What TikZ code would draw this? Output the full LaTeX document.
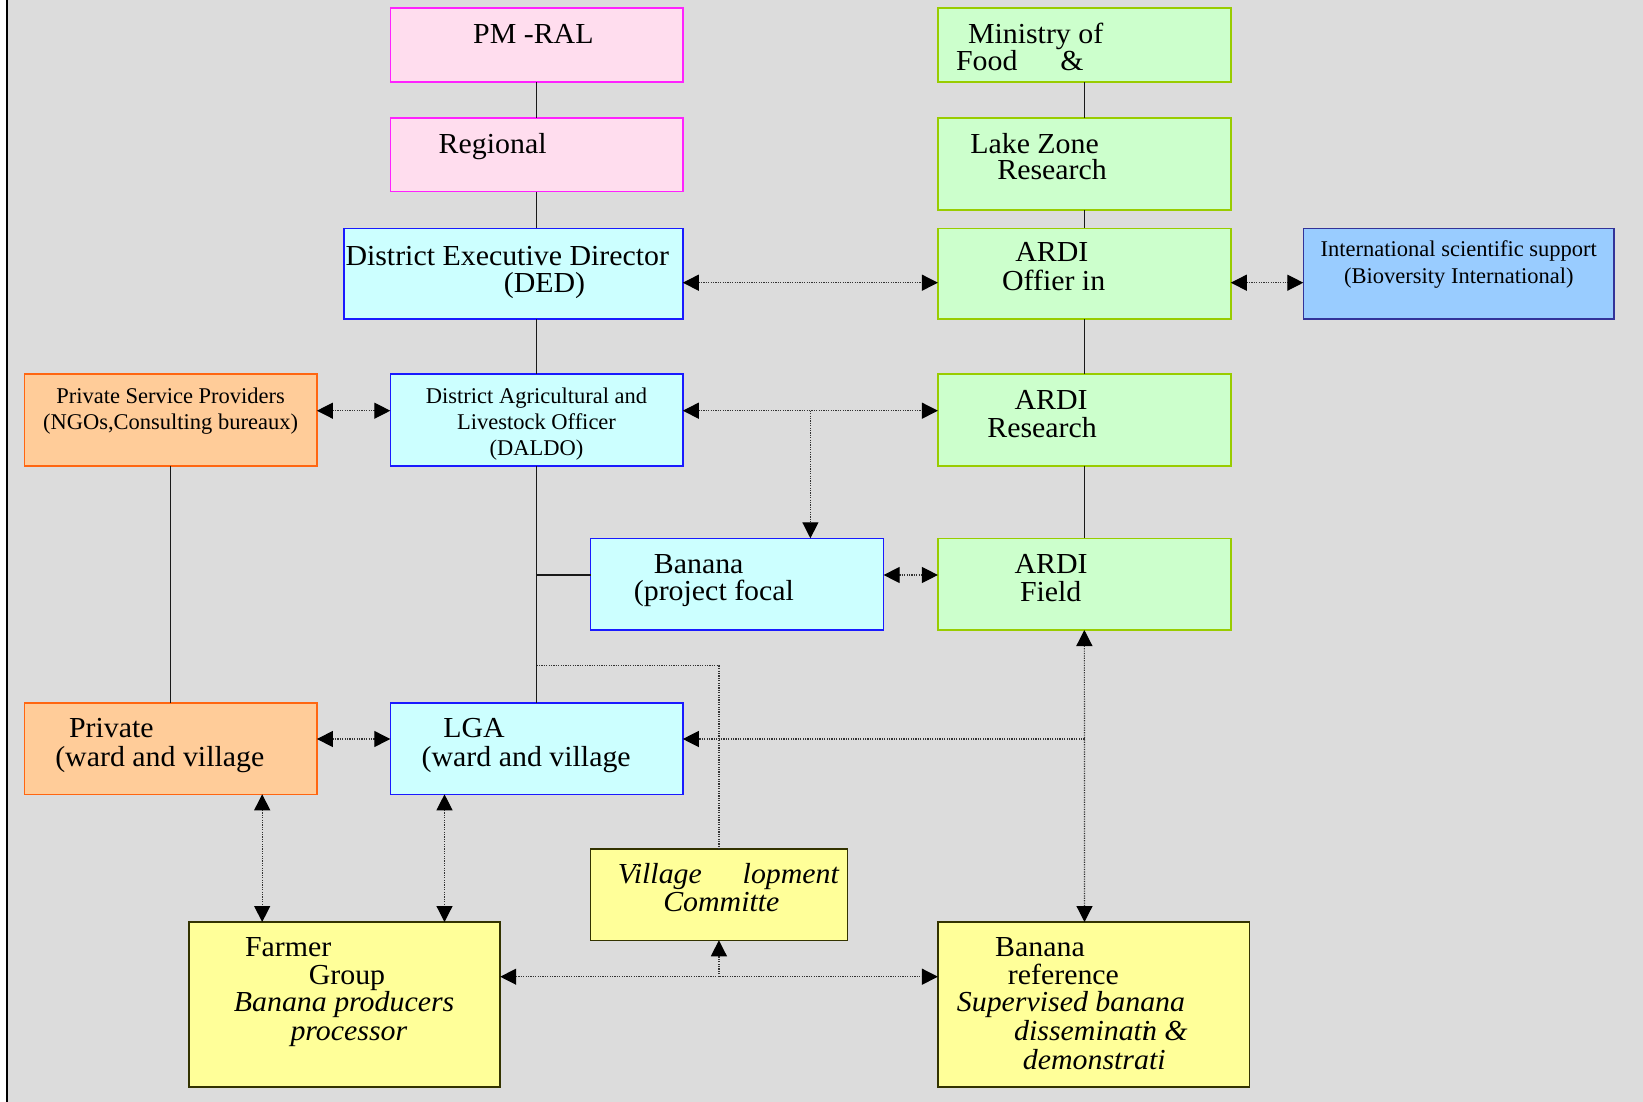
\documentclass[tikz,border=0pt]{standalone}
\usepackage{fontspec}
\setmainfont{Liberation Serif}
\newfontfamily\bigfam[FakeStretch=1.03]{Liberation Serif}
\usetikzlibrary{fit,arrows.meta}
\definecolor{bgc}{HTML}{DCDCDC}
\definecolor{pinkf}{HTML}{FFDDEE}
\definecolor{pinkd}{HTML}{FF22FF}
\definecolor{cyanf}{HTML}{CCFFFF}
\definecolor{cyand}{HTML}{1A1AFF}
\definecolor{greenf}{HTML}{CCFFCC}
\definecolor{greend}{HTML}{99CC00}
\definecolor{orangef}{HTML}{FFCC99}
\definecolor{oranged}{HTML}{FF6611}
\definecolor{bluef}{HTML}{99CCFF}
\definecolor{blued}{HTML}{333399}
\definecolor{yellowf}{HTML}{FFFF99}
\definecolor{yellowd}{HTML}{333300}
\definecolor{dotc}{HTML}{333333}
\newcommand{\bigtxt}{\bigfam\fontsize{29}{27.5}\selectfont}
\newcommand{\smalltxt}{\fontsize{22.5}{26}\selectfont}
\tikzset{
  box/.style={draw, line width=1.6pt, inner sep=0pt, outer sep=0pt},
  pinkbox/.style={box, fill=pinkf, draw=pinkd},
  cyanbox/.style={box, fill=cyanf, draw=cyand},
  greenbox/.style={box, fill=greenf, draw=greend},
  orangebox/.style={box, fill=orangef, draw=oranged},
  bluebox/.style={box, fill=bluef, draw=blued},
  yellowbox/.style={box, fill=yellowf, draw=yellowd},
  bt/.style={anchor=base west, inner sep=0pt, font=\bigtxt},
  it/.style={anchor=base west, inner sep=0pt, font=\bigtxt\itshape},
  st/.style={anchor=base, inner sep=0pt, font=\smalltxt},
  solidline/.style={line width=1.5pt, black!90},
  dotline/.style={line width=1.2pt, dotc, dash pattern=on 1.2pt off 1.2pt},
  tip/.tip={Triangle[length=16pt,width=16pt,color=black]},
  darr/.style={dotline, tip-tip},
  sarr/.style={dotline, -tip},
}
\begin{document}
\begin{tikzpicture}[x=1pt,y=-1pt]
\useasboundingbox (0,0) rectangle (1643,1102);
\fill[white] (0,0) rectangle (1643,1102);
\fill[bgc] (7,0) rectangle (1643,1102);
\draw[line width=2pt] (6.5,0) -- (6.5,1102);

% boxes
\node[pinkbox, fit={(390.3,8.3) (682.8,82.3)}] (pm) {};
\node[pinkbox, fit={(390.3,118.3) (682.8,191.7)}] (reg) {};
\node[cyanbox, fit={(343.9,228.3) (682.8,319)}] (ded) {};
\node[greenbox, fit={(937.9,8.3) (1230.8,82.3)}] (min) {};
\node[greenbox, fit={(937.9,118.3) (1230.8,210)}] (lake) {};
\node[greenbox, fit={(937.9,228.3) (1230.8,319)}] (ardio) {};
\node[bluebox, fit={(1303.3,228.3) (1614.2,319)}] (intl) {};
\node[orangebox, fit={(24.3,374) (316.9,465.7)}] (psp) {};
\node[cyanbox, fit={(390.3,374) (682.8,465.7)}] (daldo) {};
\node[greenbox, fit={(937.9,374) (1230.8,465.7)}] (ardir) {};
\node[cyanbox, fit={(590.5,538.3) (883.6,630)}] (banf) {};
\node[greenbox, fit={(937.9,538.3) (1230.8,630)}] (ardif) {};
\node[orangebox, fit={(24.3,702.7) (316.9,794.3)}] (priv) {};
\node[cyanbox, fit={(390.3,702.7) (682.8,794.3)}] (lga) {};
\node[yellowbox, fit={(590.3,849) (847.5,940.3)}] (vil) {};
\node[yellowbox, fit={(189,922) (500.2,1086.7)}] (farm) {};
\node[yellowbox, fit={(937.9,922) (1249.3,1086.7)}] (bref) {};

% texts
\node[bt] (tpm) at (473,43.3) {PM -RAL};
\node[bt] (treg) at (438.5,154) {Regional};
\node[bt] (tded1) at (345.3,265) {District Executive Director};
\node[bt] (tded2) at (503.7,292) {(DED)};
\node[bt] (tmin1) at (967.8,43.3) {Ministry of};
\node[bt] (tmin2) at (955.9,71) {Food};
\node[bt] (tmin3) at (1060.2,71) {\&};
\node[bt] (tlake1) at (970.1,154) {Lake Zone};
\node[bt] (tlake2) at (997.2,180) {Research};
\node[bt] (tardio1) at (1015.2,261.7) {ARDI};
\node[bt] (tardio2) at (1001.9,290) {Offier in};
\node[st] (tintl1) at (1458.8,256.7) {International scientific support};
\node[st] (tintl2) at (1458.8,283.3) {(Bioversity International)};
\node[st] (tpsp1) at (170.6,403.3) {Private Service Providers};
\node[st] (tpsp2) at (170.6,429) {(NGOs,Consulting bureaux)};
\node[st] (tdal1) at (536.5,403.3) {District Agricultural and};
\node[st] (tdal2) at (536.5,429) {Livestock Officer};
\node[st] (tdal3) at (536.5,455) {(DALDO)};
\node[bt] (tardir1) at (1014.4,409) {ARDI};
\node[bt] (tardir2) at (987.2,437.3) {Research};
\node[bt] (tbanf1) at (653.7,573.3) {Banana};
\node[bt] (tbanf2) at (633.7,600.7) {(project focal};
\node[bt] (tardif1) at (1014.4,573.3) {ARDI};
\node[bt] (tardif2) at (1019.8,601.7) {Field};
\node[bt] (tpriv1) at (68.9,737.7) {Private};
\node[bt] (tpriv2) at (55.1,766) {(ward and village};
\node[bt] (tlga1) at (443.1,737.7) {LGA};
\node[bt] (tlga2) at (421.5,766) {(ward and village};
\node[it] (tvil1) at (617.6,883.3) {Village};
\node[it] (tvil2) at (742.5,883.3) {lopment};
\node[it] (tvil3) at (663.1,911.7) {Committe};
\node[bt] (tfarm1) at (244.8,956) {Farmer};
\node[bt] (tfarm2) at (308.6,984) {Group};
\node[it] (tfarm3) at (233.7,1011.7) {Banana producers};
\node[it] (tfarm4) at (290.3,1040) {processor};
\node[bt] (tbref1) at (995,956.7) {Banana};
\node[bt] (tbref2) at (1007.7,984) {reference};
\node[it] (tbref3) at (956.7,1011.7) {Supervised banana};
\node[it] (tbref4) at (1014,1040) {disseminat\rlap{i}n \&};
\node[it] (tbref5) at (1022.7,1069) {demonstrati};

% junction coordinates
\coordinate (yded) at (0,282.7);
\coordinate (ydal) at (0,410.7);
\coordinate (ybanf) at (0,575);
\coordinate (ylga) at (0,739);
\coordinate (yfarm) at (0,976.7);
\coordinate (xdrop) at (810.4,0);
\coordinate (xpriv) at (262.2,0);
\coordinate (xlga) at (444.5,0);
\coordinate (xvil) at (718.9,0);
\coordinate (xgreen) at (1084.5,0);
\coordinate (jd) at (810.4,410.7);
\coordinate (jv1) at (536.5,665.7);
\coordinate (jv2) at (718.9,665.7);
\coordinate (jl) at (1084.5,739);
\coordinate (jf) at (718.9,976.7);

% solid connectors
\draw[solidline] (pm.south) -- (reg.north);
\draw[solidline] (reg.south) -- (ded.north -| reg.south);
\draw[solidline] (ded.south -| daldo.north) -- (daldo.north);
\draw[solidline] (daldo.south) -- (lga.north);
\draw[solidline] (lga.north |- ybanf) -- (banf.west |- ybanf);
\draw[solidline] (min.south) -- (lake.north);
\draw[solidline] (lake.south) -- (ardio.north);
\draw[solidline] (ardio.south) -- (ardir.north);
\draw[solidline] (ardir.south) -- (ardif.north);
\draw[solidline] (psp.south) -- (priv.north);

% dotted connectors
\draw[darr] (ded.east |- yded) -- (ardio.west |- yded);
\draw[darr] (ardio.east |- yded) -- (intl.west |- yded);
\draw[darr] (psp.east |- ydal) -- (daldo.west |- ydal);
\draw[darr] (daldo.east |- ydal) -- (ardir.west |- ydal);
\draw[sarr] (jd) -- (banf.north -| xdrop);
\draw[darr] (banf.east |- ybanf) -- (ardif.west |- ybanf);
\draw[darr] (priv.east |- ylga) -- (lga.west |- ylga);
\draw[sarr] (jl) -- (lga.east |- ylga);
\draw[darr] (ardif.south) -- (bref.north -| xgreen);
\draw[darr] (priv.south -| xpriv) -- (farm.north -| xpriv);
\draw[darr] (lga.south -| xlga) -- (farm.north -| xlga);
\draw[darr] (farm.east |- yfarm) -- (bref.west |- yfarm);
\draw[sarr] (jf) -- (vil.south -| xvil);
\draw[dotline] (jv1) -- (jv2) -- (vil.north -| xvil);
\end{tikzpicture}
\end{document}
